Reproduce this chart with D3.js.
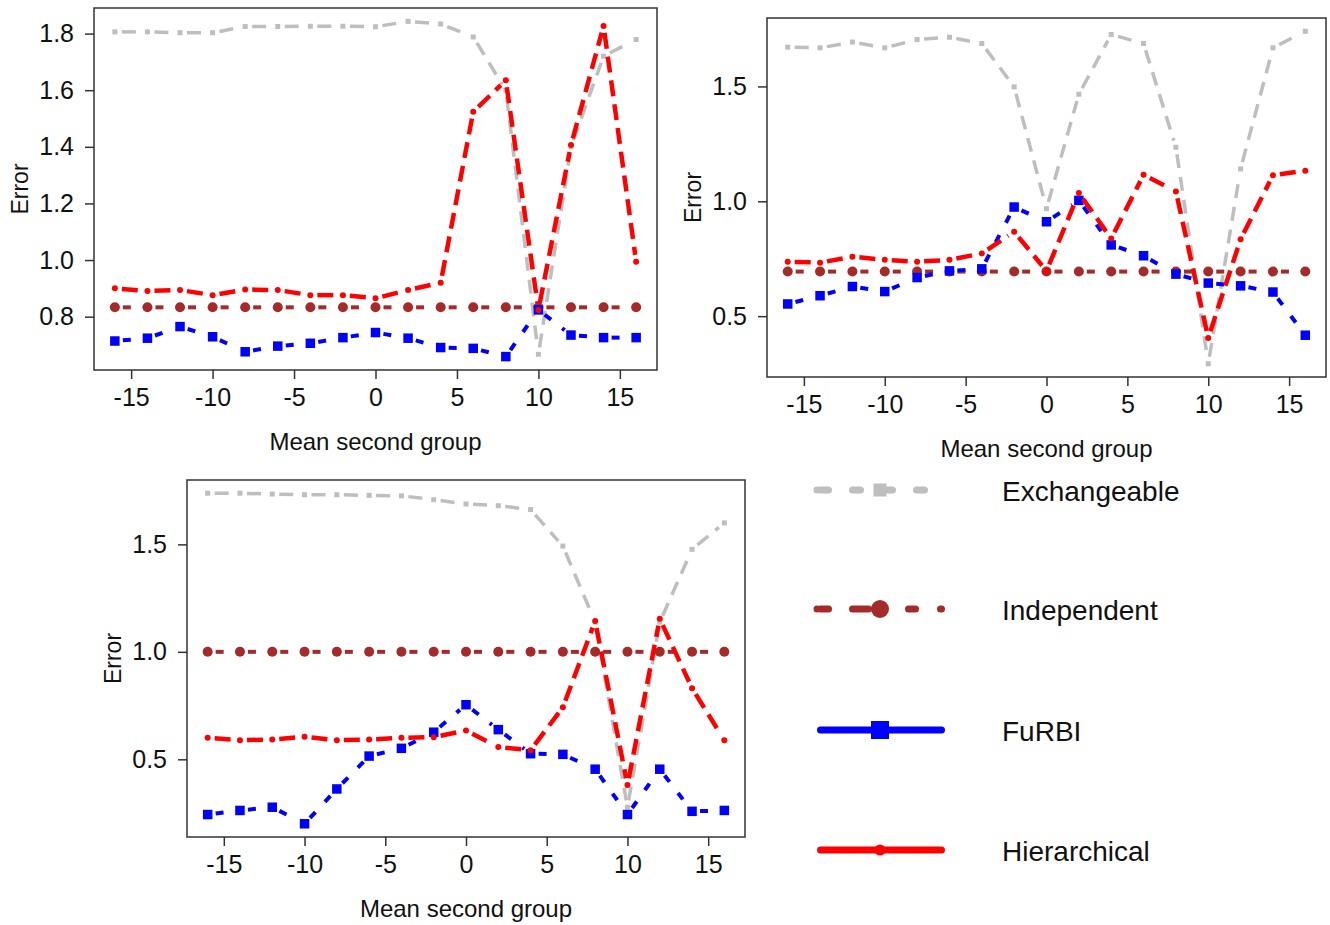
<!DOCTYPE html>
<html>
<head>
<meta charset="utf-8">
<script src="https://cdn.jsdelivr.net/npm/d3@7"></script>
<style>
  html, body { margin: 0; padding: 0; background: #fff; }
  svg { display: block; font-family: "Liberation Sans", Arial, sans-serif; }
</style>
</head>
<body>
<svg id="chart" width="1330" height="925"></svg>
<script>
// ---------------- DATA ----------------
const xValues = [-16, -14, -12, -10, -8, -6, -4, -2, 0, 2, 4, 6, 8, 10, 12, 14, 16];
const xTicks = [-15, -10, -5, 0, 5, 10, 15];
const xTickLabels = ["-15", "-10", "-5", "0", "5", "10", "15"];
const xTitle = "Mean second group";
const yTitle = "Error";

const seriesNames = ["Exchangeable", "Independent", "FuRBI", "Hierarchical"];

// Panel 1 (top left)
const p1Exchangeable = [1.806, 1.806, 1.803, 1.803, 1.825, 1.825, 1.826, 1.826, 1.824, 1.843, 1.834, 1.788, 1.60, 0.667, 1.40, 1.72, 1.779];
const p1Independent  = [0.833, 0.833, 0.833, 0.833, 0.833, 0.833, 0.833, 0.833, 0.833, 0.833, 0.833, 0.833, 0.833, 0.833, 0.833, 0.833, 0.833];
const p1FuRBI        = [0.714, 0.724, 0.765, 0.729, 0.676, 0.696, 0.706, 0.726, 0.744, 0.724, 0.691, 0.688, 0.659, 0.824, 0.735, 0.726, 0.726];
const p1Hierarchical = [0.900, 0.891, 0.894, 0.876, 0.896, 0.894, 0.876, 0.876, 0.865, 0.894, 0.920, 1.524, 1.635, 0.824, 1.406, 1.827, 0.994];
const p1YTicks = [0.8, 1.0, 1.2, 1.4, 1.6, 1.8];
const p1YTickLabels = ["0.8", "1.0", "1.2", "1.4", "1.6", "1.8"];

// Panel 2 (top right)
const p2Exchangeable = [1.671, 1.668, 1.693, 1.668, 1.704, 1.714, 1.687, 1.498, 0.968, 1.466, 1.726, 1.687, 1.235, 0.293, 1.141, 1.668, 1.740];
const p2Independent  = [0.694, 0.694, 0.694, 0.694, 0.694, 0.694, 0.694, 0.694, 0.694, 0.694, 0.694, 0.694, 0.694, 0.694, 0.694, 0.694, 0.694];
const p2FuRBI        = [0.553, 0.589, 0.629, 0.607, 0.668, 0.697, 0.706, 0.975, 0.911, 1.004, 0.810, 0.763, 0.683, 0.644, 0.632, 0.605, 0.417];
const p2Hierarchical = [0.737, 0.733, 0.759, 0.745, 0.737, 0.745, 0.773, 0.867, 0.697, 1.036, 0.838, 1.115, 1.043, 0.405, 0.835, 1.113, 1.133];
const p2YTicks = [0.5, 1.0, 1.5];
const p2YTickLabels = ["0.5", "1.0", "1.5"];

// Panel 3 (bottom left)
const p3Exchangeable = [1.738, 1.738, 1.734, 1.731, 1.731, 1.728, 1.726, 1.708, 1.688, 1.680, 1.662, 1.492, 1.138, 0.277, 1.138, 1.477, 1.600];
const p3Independent  = [1.0, 1.0, 1.0, 1.0, 1.0, 1.0, 1.0, 1.0, 1.0, 1.0, 1.0, 1.0, 1.0, 1.0, 1.0, 1.0, 1.0];
const p3FuRBI        = [0.243, 0.262, 0.277, 0.200, 0.362, 0.515, 0.551, 0.626, 0.754, 0.638, 0.526, 0.523, 0.454, 0.243, 0.454, 0.258, 0.262];
const p3Hierarchical = [0.600, 0.589, 0.592, 0.605, 0.589, 0.592, 0.600, 0.603, 0.634, 0.557, 0.542, 0.742, 1.143, 0.380, 1.154, 0.831, 0.589];
const p3YTicks = [0.5, 1.0, 1.5];
const p3YTickLabels = ["0.5", "1.0", "1.5"];

// ---------------- LAYOUT / STYLE ----------------
const panels = [
  { box: { l: 94,  t: 8,   r: 657,  b: 370 }, series: [p1Exchangeable, p1Independent, p1FuRBI, p1Hierarchical], yTicks: p1YTicks, yLabels: p1YTickLabels },
  { box: { l: 767, t: 18,  r: 1326, b: 377 }, series: [p2Exchangeable, p2Independent, p2FuRBI, p2Hierarchical], yTicks: p2YTicks, yLabels: p2YTickLabels },
  { box: { l: 187, t: 480, r: 745,  b: 837 }, series: [p3Exchangeable, p3Independent, p3FuRBI, p3Hierarchical], yTicks: p3YTicks, yLabels: p3YTickLabels }
];

const styles = [
  { color: "#BEBEBE", width: 3.5, dash: "14,9",  gap: 7,   marker: "square", size: 5 },
  { color: "#A52A2A", width: 4,   dash: "8,14",  gap: 8,   marker: "circle", size: 5 },
  { color: "#0000FF", width: 4,   dash: "8,14",  gap: 8,   marker: "square", size: 9.5 },
  { color: "#FF0000", width: 4.5, dash: "16,8",  gap: 7,   marker: "circle", size: 3 }
];

const axisColor = "#333";
const textColor = "#111";
const tickFont = 25;
const titleFont = 24;

const svg = d3.select("#chart");

panels.forEach(p => {
  const g = svg.append("g");
  const bx = p.box;
  const xr = [d3.min(xValues), d3.max(xValues)];
  const xpad = (xr[1] - xr[0]) * 0.04;
  const x = d3.scaleLinear().domain([xr[0] - xpad, xr[1] + xpad]).range([bx.l, bx.r]);
  const all = p.series.flat();
  const yr = [d3.min(all), d3.max(all)];
  const ypad = (yr[1] - yr[0]) * 0.04;
  const y = d3.scaleLinear().domain([yr[0] - ypad, yr[1] + ypad]).range([bx.b, bx.t]);

  // series lines (type = "b": segments with gaps around points)
  p.series.forEach((vals, si) => {
    const st = styles[si];
    const sg = g.append("g");
    for (let i = 0; i < vals.length - 1; i++) {
      const x0 = x(xValues[i]), y0 = y(vals[i]);
      const x1 = x(xValues[i + 1]), y1 = y(vals[i + 1]);
      const L = Math.hypot(x1 - x0, y1 - y0);
      if (L <= 2 * st.gap) continue;
      const ux = (x1 - x0) / L, uy = (y1 - y0) / L;
      sg.append("line")
        .attr("x1", x0 + ux * st.gap).attr("y1", y0 + uy * st.gap)
        .attr("x2", x1 - ux * st.gap).attr("y2", y1 - uy * st.gap)
        .attr("stroke", st.color).attr("stroke-width", st.width)
        .attr("stroke-dasharray", st.dash).attr("stroke-linecap", "butt");
    }
    const pts = sg.selectAll(".pt").data(vals).enter();
    if (st.marker === "square") {
      pts.append("rect")
        .attr("x", (d, i) => x(xValues[i]) - st.size / 2)
        .attr("y", d => y(d) - st.size / 2)
        .attr("width", st.size).attr("height", st.size)
        .attr("fill", st.color);
    } else {
      pts.append("circle")
        .attr("cx", (d, i) => x(xValues[i]))
        .attr("cy", d => y(d))
        .attr("r", st.size)
        .attr("fill", st.color);
    }
  });

  // box
  g.append("rect")
    .attr("x", bx.l).attr("y", bx.t)
    .attr("width", bx.r - bx.l).attr("height", bx.b - bx.t)
    .attr("fill", "none").attr("stroke", axisColor).attr("stroke-width", 1.5);

  // x axis
  const xAxis = d3.axisBottom(x).tickValues(xTicks).tickFormat((d, i) => xTickLabels[i]).tickSize(9).tickPadding(9);
  const xa = g.append("g").attr("transform", `translate(0,${bx.b})`).call(xAxis);
  xa.select(".domain").remove();
  xa.selectAll("line").attr("stroke", axisColor).attr("stroke-width", 1.5);
  xa.selectAll("text").attr("font-size", tickFont).attr("fill", textColor)
    .attr("font-family", "Liberation Sans, Arial, sans-serif");

  // y axis
  const yAxis = d3.axisLeft(y).tickValues(p.yTicks).tickFormat((d, i) => p.yLabels[i]).tickSize(9).tickPadding(11);
  const ya = g.append("g").attr("transform", `translate(${bx.l},0)`).call(yAxis);
  ya.select(".domain").remove();
  ya.selectAll("line").attr("stroke", axisColor).attr("stroke-width", 1.5);
  ya.selectAll("text").attr("font-size", tickFont).attr("fill", textColor)
    .attr("font-family", "Liberation Sans, Arial, sans-serif");

  // titles
  g.append("text")
    .attr("x", (bx.l + bx.r) / 2).attr("y", bx.b + 71)
    .attr("text-anchor", "middle").attr("dominant-baseline", "central")
    .attr("font-size", titleFont).attr("fill", textColor)
    .text(xTitle);
  g.append("text")
    .attr("transform", `translate(${bx.l - 74},${(bx.t + bx.b) / 2}) rotate(-90)`)
    .attr("text-anchor", "middle").attr("dominant-baseline", "central")
    .attr("font-size", titleFont - 1).attr("fill", textColor)
    .text(yTitle);
});

// ---------------- LEGEND ----------------
const legendYs = [490, 609, 730, 850];
const legendLine = { x0: 817, x1: 945, xm: 880, width: 7 };
const legendDash = [
  "0,3.5,8,24,8,24,8,24,8,24",
  "0,3.5,8,24,16,40,7,25,1,20",
  null,
  null
];
const legendEnd = [928, 945, 945, 945];
const legendMarker = [
  { type: "square", size: 13 },
  { type: "circle", size: 9 },
  { type: "square", size: 18 },
  { type: "circle", size: 5.5 }
];
const lg = svg.append("g");
seriesNames.forEach((name, i) => {
  const yy = legendYs[i];
  const st = styles[i];
  const ln = lg.append("line")
    .attr("x1", legendLine.x0 + (legendDash[i] ? 0 : 3.5)).attr("x2", legendEnd[i] - (legendDash[i] ? 0 : 3.5))
    .attr("y1", yy).attr("y2", yy)
    .attr("stroke", st.color).attr("stroke-width", legendLine.width)
    .attr("stroke-linecap", "round");
  if (legendDash[i]) ln.attr("stroke-dasharray", legendDash[i]);
  const m = legendMarker[i];
  if (m.type === "square") {
    lg.append("rect").attr("x", legendLine.xm - m.size / 2).attr("y", yy - m.size / 2)
      .attr("width", m.size).attr("height", m.size).attr("fill", st.color);
  } else {
    lg.append("circle").attr("cx", legendLine.xm).attr("cy", yy).attr("r", m.size).attr("fill", st.color);
  }
  lg.append("text")
    .attr("x", 1002).attr("y", yy + 11)
    .attr("font-size", 28).attr("fill", textColor)
    .text(name);
});
</script>
</body>
</html>
